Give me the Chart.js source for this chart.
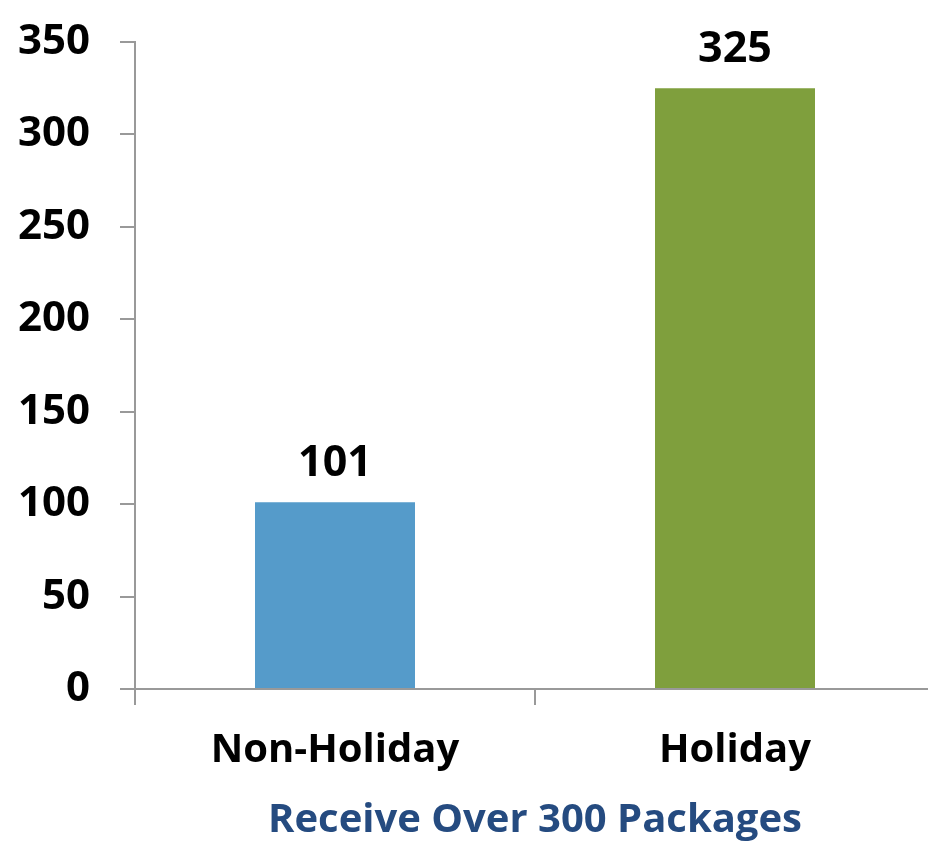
<!DOCTYPE html>
<html>
<head>
<meta charset="utf-8">
<script src="https://cdn.jsdelivr.net/npm/chart.js@4"></script>
<style>
  html, body { margin: 0; padding: 0; background: #fff; overflow: hidden; }
  #wrap { width: 935px; height: 841px; }
</style>
</head>
<body>
<div id="wrap"><canvas id="chart"></canvas></div>
<script>
const categories = ["Non-Holiday", "Holiday"];
const values = [101, 325];
const barColors = ["#559BCA", "#7F9F3D"];
const titleText = "Receive Over 300 Packages";

const FONT = "'Open Sans', sans-serif";
const axisColor = "#999999";

// draws the number above each bar
const valueLabels = {
  id: "valueLabels",
  afterDatasetsDraw(chart) {
    const ctx = chart.ctx;
    const meta = chart.getDatasetMeta(0);
    ctx.save();
    ctx.font = "bold 43px " + FONT;
    ctx.fillStyle = "#000";
    ctx.textAlign = "center";
    ctx.textBaseline = "alphabetic";
    meta.data.forEach((bar, i) => {
      ctx.fillText(values[i], bar.x, bar.y - 26);
    });
    ctx.restore();
  }
};

new Chart(document.getElementById("chart"), {
  type: "bar",
  data: {
    labels: categories,
    datasets: [{
      data: values,
      backgroundColor: barColors,
      barPercentage: 0.4,
      categoryPercentage: 1
    }]
  },
  options: {
    responsive: true,
    maintainAspectRatio: false,
    animation: false,
    layout: { padding: { top: 42, left: 0, right: 0, bottom: 0 } },
    plugins: {
      legend: { display: false },
      tooltip: { enabled: false }
    },
    scales: {
      x: {
        afterFit: (s) => { s.height = 152; s.paddingLeft = 0; s.paddingRight = 0; },
        grid: { drawOnChartArea: false, offset: true, tickLength: 16, color: axisColor, lineWidth: 2 },
        border: { color: axisColor, width: 2 },
        ticks: { color: "#000", padding: 22, font: { family: FONT, size: 40, weight: "bold" } },
        title: {
          display: true,
          text: titleText,
          color: "#254B80",
          font: { family: FONT, size: 40, weight: "bold", lineHeight: 1 },
          padding: { top: 0, bottom: 0 }
        }
      },
      y: {
        min: 0,
        max: 350,
        afterFit: (s) => { s.width = 135; s.paddingTop = 0; s.paddingBottom = 0; },
        grid: { drawOnChartArea: false, tickLength: 15, color: axisColor, lineWidth: 2 },
        border: { color: axisColor, width: 2 },
        ticks: { stepSize: 50, color: "#000", padding: 30, font: { family: FONT, size: 42, weight: "bold" } }
      }
    }
  },
  plugins: [valueLabels]
});
</script>
</body>
</html>
